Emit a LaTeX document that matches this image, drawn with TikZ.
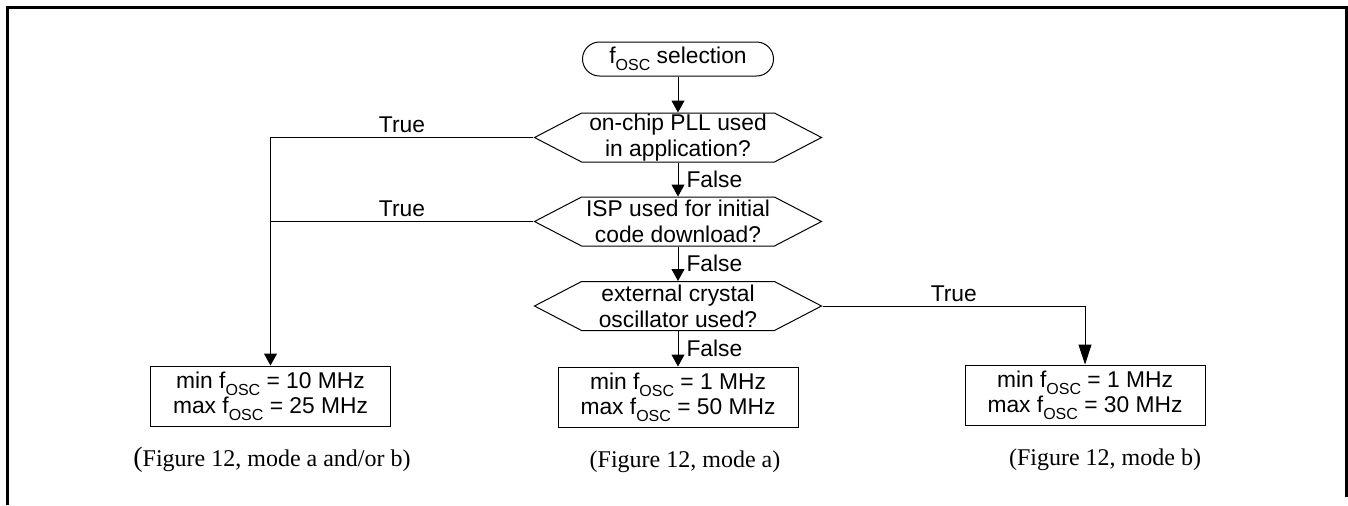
\documentclass[tikz,border=0pt]{standalone}
\usepackage{fontspec}
\setmainfont{Liberation Sans}
\newfontfamily\capfont{Liberation Serif}
\usetikzlibrary{shapes.symbols,arrows.meta}
\newcommand{\fosc}{f\raisebox{-3.5pt}{\fontsize{8}{8}\selectfont OSC}}

\begin{document}
\begin{tikzpicture}[x=0.5pt,y=-0.5pt,
    every node/.style={font=\fontsize{11.4}{13}\selectfont},
    terminal/.style={draw,line width=0.5pt,rounded corners=8.5pt,minimum width=95.5pt,minimum height=17pt,inner sep=0pt},
    decision/.style={draw,line width=0.5pt,signal,signal to=east and west,signal pointer angle=55,minimum width=143.5pt,minimum height=24.5pt,inner sep=0pt,align=center},
    result/.style={draw,line width=0.5pt,minimum width=120pt,minimum height=30pt,inner sep=0pt,align=center,font=\fontsize{11.4}{12.5}\selectfont},
    caption/.style={font=\capfont\fontsize{12}{14}\selectfont},
    flow/.style={line width=0.5pt,-{Triangle[length=6pt,width=6.5pt]}},
    longflow/.style={line width=0.5pt,-{Triangle[length=10pt,width=6.5pt]}},
    link/.style={line width=0.5pt},
    answer/.style={inner sep=2pt}]
    \useasboundingbox (0,0) rectangle (1348,505);

    % Rahmen
    \draw[line width=1.5pt] (7,505) -- (7,7.5) -- (1346.5,7.5) -- (1346.5,497);

    % Start und Abfragen
    \node[terminal] (start) at (678,59) {\fosc{} selection};
    \node[decision] (pll) at (678,137.5) {on-chip PLL used\\in application?};
    \node[decision] (isp) at (678,221.5) {ISP used for initial\\code download?};
    \node[decision] (xtal) at (678,306) {external crystal\\oscillator used?};

    % Ergebnisse
    \node[result] (modeab) at (270.5,396) {min \fosc{} = 10 MHz\\max \fosc{} = 25 MHz};
    \node[result] (modea) at (678,397) {min \fosc{} = 1 MHz\\max \fosc{} = 50 MHz};
    \node[result] (modeb) at (1085,395) {min \fosc{} = 1 MHz\\max \fosc{} = 30 MHz};

    % Bildverweise
    \node[caption] (capab) at (272,460) {{\fontsize{14}{14}\selectfont(}Figure 12, mode a and/or b)};
    \node[caption] (capa) at (685,462) {(Figure 12, mode a)};
    \node[caption] (capb) at (1105,460) {(Figure 12, mode b)};

    % Verbindungen
    \draw[flow] (start.south) -- (pll.north);
    \draw[flow] (pll.south) -- node[answer,right,xshift=2pt]{False} (isp.north);
    \draw[flow] (isp.south) -- node[answer,right,xshift=2pt]{False} (xtal.north);
    \draw[flow] (xtal.south) -- node[answer,right,xshift=2pt]{False} (modea.north);
    \draw[flow] (pll.west) -| node[answer,pos=0.25,above]{True} (modeab.north);
    \draw[link] (isp.west) -- node[answer,above]{True} (isp.west -| modeab.north);
    \draw[longflow] (xtal.east) -| node[answer,pos=0.25,above]{True} (modeb.north);
\end{tikzpicture}
\end{document}
